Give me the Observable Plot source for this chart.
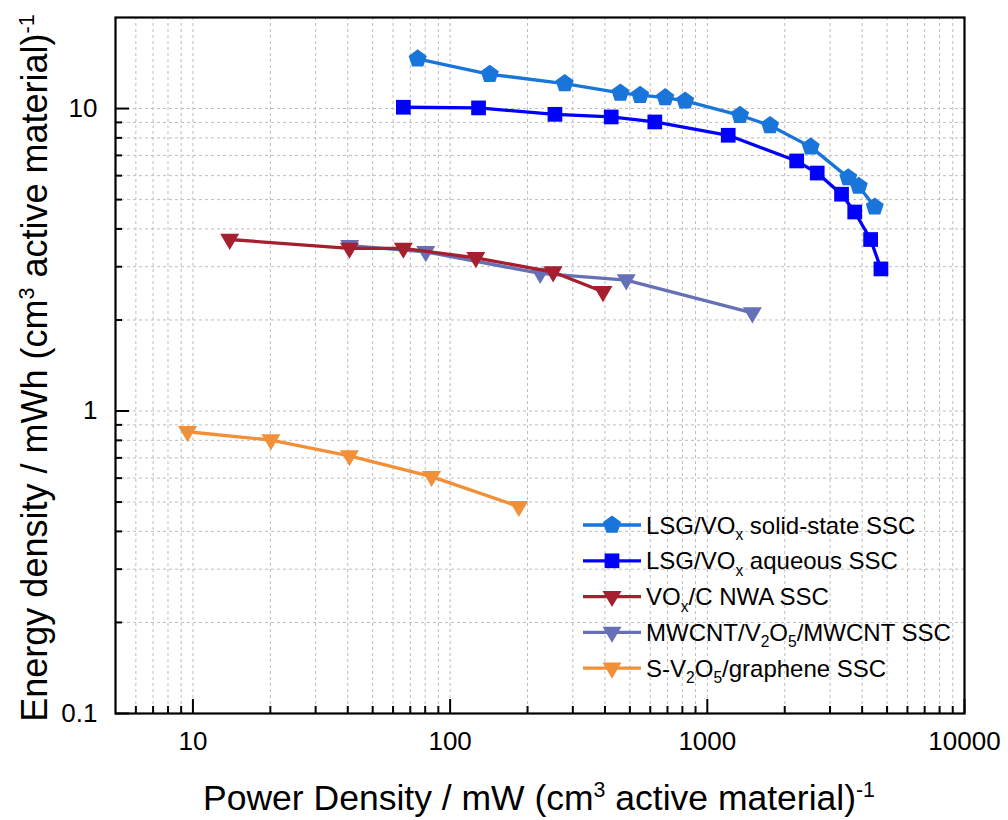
<!DOCTYPE html>
<html><head><meta charset="utf-8">
<script src="https://cdn.jsdelivr.net/npm/d3@7"></script>
<script src="https://cdn.jsdelivr.net/npm/@observablehq/plot@0.6"></script>
<style>
body{margin:0;background:#fff;}
#chart svg{font-family:Arial,"Liberation Sans",sans-serif;}
</style>
</head><body><div id="chart"></div>
<script>
// ---- data ----
const seriesNames = ["LSG/VOx solid-state SSC","LSG/VOx aqueous SSC","VOx/C NWA SSC","MWCNT/V2O5/MWCNT SSC","S-V2O5/graphene SSC"];
const seriesColors = ["#1a75da","#0000ff","#a51f2e","#6670b6","#f19038"];
const solidPower  = [74.8,142.6,279,459,548,686,820,1340,1754,2523,3532,3881,4478];
const solidEnergy = [14.6,12.98,12.1,11.26,11.07,10.87,10.6,9.5,8.79,7.47,5.91,5.54,4.73];
const aqPower  = [65.8,129,255.6,423,625,1206,2226,2675,3326,3743,4315,4733];
const aqEnergy = [10.1,10.05,9.57,9.38,9.03,8.16,6.71,6.12,5.21,4.55,3.69,2.95];
const nwaPower  = [13.9,40.6,65.8,125.9,251.5,393];
const nwaEnergy = [3.69,3.45,3.45,3.21,2.88,2.48];
const mwPower  = [40.7,80.4,224,484,1497];
const mwEnergy = [3.52,3.36,2.85,2.71,2.11];
const sgPower  = [9.53,20.1,40.6,84.7,185];
const sgEnergy = [0.854,0.802,0.711,0.607,0.483];
const xMajor = [10,100,1000,10000];
const yMajor = [0.1,1,10];
const xTickLabels = ["10","100","1000","10000"];
const yTickLabels = ["0.1","1","10"];
// legend label pieces: [text, kind] kind: "" normal, "sub" subscript
const legendLabels = [
  [["LSG/VO",""],["x","sub"],[" solid-state SSC",""]],
  [["LSG/VO",""],["x","sub"],[" aqueous SSC",""]],
  [["VO",""],["x","sub"],["/C NWA SSC",""]],
  [["MWCNT/V",""],["2","sub"],["O",""],["5","sub"],["/MWCNT SSC",""]],
  [["S-V",""],["2","sub"],["O",""],["5","sub"],["/graphene SSC",""]]
];

// minor ticks
const xMinor = [];
for (const d of [1,10,100,1000]) for (let k=2;k<=9;k++){ const v=d*k; if (v>5 && v<10000) xMinor.push(v); }
const yMinor = [];
for (const d of [0.1,1,10]) for (let k=2;k<=9;k++){ const v=+(d*k).toPrecision(3); if (v<20) yMinor.push(v); }

// ---- symbols ----
const pentagon = {draw(ctx, size){ const R=Math.sqrt(size/Math.PI); for(let i=0;i<5;i++){const a=-Math.PI/2+i*2*Math.PI/5; const px=R*Math.cos(a), py=R*Math.sin(a); i?ctx.lineTo(px,py):ctx.moveTo(px,py);} ctx.closePath(); }};
const square = {draw(ctx, size){ const r=Math.sqrt(size/Math.PI); const h=r*0.8; ctx.moveTo(-h,-h); ctx.lineTo(h,-h); ctx.lineTo(h,h); ctx.lineTo(-h,h); ctx.closePath(); }};
const triDown = {draw(ctx, size){ const r=Math.sqrt(size/Math.PI); ctx.moveTo(-r,-0.6*r); ctx.lineTo(r,-0.6*r); ctx.lineTo(0,1.1*r); ctx.closePath(); }};
const seriesSymbols = [pentagon, square, triDown, triDown, triDown];
const seriesR = [9.5, 9.2, 9.5, 9.5, 9.5];

const seriesData = [
  [solidPower, solidEnergy],[aqPower, aqEnergy],[nwaPower, nwaEnergy],[mwPower, mwEnergy],[sgPower, sgEnergy]
].map(([p,e],i)=>p.map((v,j)=>({x:v,y:e[j],s:i})));

// draw order: solid, aqueous, mwcnt, nwa, sv2o5
const drawOrder = [0,1,3,2,4];
const seriesMarks = drawOrder.flatMap(i=>[
  Plot.line(seriesData[i],{x:"x",y:"y",stroke:seriesColors[i],strokeWidth:3.3}),
  Plot.dot(seriesData[i],{x:"x",y:"y",symbol:seriesSymbols[i],r:seriesR[i],fill:seriesColors[i],stroke:"none"})
]);

const gridStyle = {stroke:"#bdbdbd",strokeOpacity:1,strokeWidth:1,strokeDasharray:"3,3"};

const chart = Plot.plot({
  width:1008, height:820,
  marginLeft:115, marginRight:44, marginTop:17, marginBottom:107,
  style:{fontFamily:'Arial,"Liberation Sans",sans-serif', background:"#fff"},
  x:{type:"log", domain:[5,10000]},
  y:{type:"log", domain:[0.1,20]},
  marks:[
    Plot.gridX([...xMinor,...xMajor], gridStyle),
    Plot.gridY([...yMinor,...yMajor], gridStyle),
    ...seriesMarks,
    Plot.axisX({ticks:xMajor, tickSize:-14, strokeWidth:2, text:null, label:null}),
    Plot.axisX({ticks:xMinor, tickSize:-7, strokeWidth:2, text:null, label:null}),
    Plot.axisY({ticks:yMajor, tickSize:-14, strokeWidth:2, text:null, label:null}),
    Plot.axisY({ticks:yMinor, tickSize:-7, strokeWidth:2, text:null, label:null}),
    Plot.axisX({ticks:xMajor, tickSize:0, tickPadding:18, tickFormat:(d)=>xTickLabels[xMajor.indexOf(d)], fontSize:26, fill:"#000", label:null}),
    Plot.axisY({ticks:yMajor, tickSize:0, tickPadding:18, tickFormat:(d)=>yTickLabels[yMajor.indexOf(d)], fontSize:26, fill:"#000", label:null}),
    Plot.frame({stroke:"#000", strokeWidth:2.2})
  ]
});
document.getElementById("chart").appendChild(chart);

// ---- axis titles & legend ----
const svg = d3.select(chart);
function addRich(textSel, pieces, baseSize){
  let offset = 0; // current baseline shift in px (positive = down)
  for (const [t,k] of pieces){
    let target = 0, fs = baseSize;
    if (k==="sub"){ target = baseSize*0.27; fs = baseSize*0.65; }
    else if (k==="sup"){ target = -baseSize*0.36; fs = baseSize*0.6; }
    const ts = textSel.append("tspan").attr("font-size",fs).text(t);
    if (target !== offset) ts.attr("dy", target - offset);
    offset = target;
  }
}
const xTitle = svg.append("text").attr("x",539).attr("y",810).attr("text-anchor","middle").attr("fill","#000");
addRich(xTitle, [["Power Density / mW (cm",""],["3","sup"],[" active material)",""],["-1","sup"]], 35.5);
const yTitle = svg.append("text").attr("transform","translate(47,368) rotate(-90)").attr("text-anchor","middle").attr("fill","#000");
addRich(yTitle, [["Energy density / mWh (cm",""],["3","sup"],[" active material)",""],["-1","sup"]], 36);

const lg = svg.append("g");
const rowY0 = 525, rowStep = 35.8;
legendLabels.forEach((pieces,i)=>{
  const cy = rowY0 + i*rowStep;
  lg.append("line").attr("x1",583).attr("x2",641).attr("y1",cy).attr("y2",cy).attr("stroke",seriesColors[i]).attr("stroke-width",3.3);
  lg.append("path").attr("transform",`translate(612,${cy})`).attr("fill",seriesColors[i])
    .attr("d", d3.symbol(seriesSymbols[i], Math.PI*seriesR[i]*seriesR[i])());
  const t = lg.append("text").attr("x",646).attr("y",cy+8.5).attr("fill","#000").attr("text-anchor","start");
  addRich(t, pieces, 24);
});
</script>
</body></html>
